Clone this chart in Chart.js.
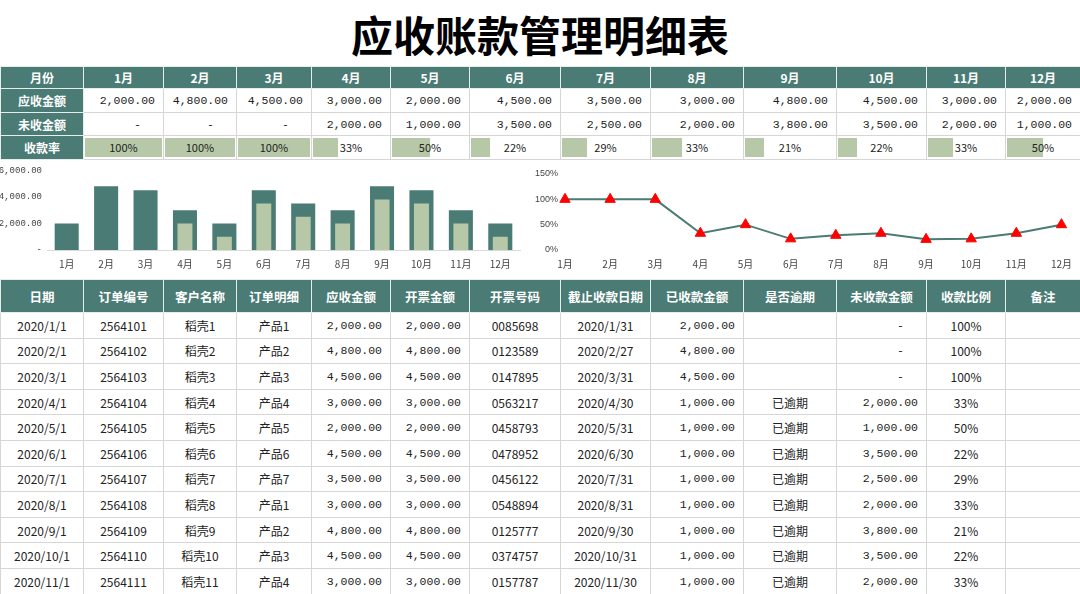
<!DOCTYPE html>
<html><head><meta charset="utf-8">
<script src="https://cdn.jsdelivr.net/npm/chart.js@4.4.1/dist/chart.umd.min.js"></script>
<style>
html,body{margin:0;padding:0;background:#fff;width:1080px;height:594px;overflow:hidden;position:relative;font-family:"Noto Sans CJK SC","Noto Sans",sans-serif;color:#222;}
#title{position:absolute;left:0;top:9px;width:1080px;text-align:center;font-size:42px;font-weight:700;line-height:50px;color:#000;}
table{position:absolute;left:0;border-collapse:collapse;table-layout:fixed;width:1080px;}
td{padding:0;overflow:hidden;white-space:nowrap;font-size:12px;box-sizing:border-box;}
.hd{background:#4a7b74;color:#fff;font-weight:700;text-align:center;border:1px solid #e6eeec;}
.c{text-align:center;border:1px solid #d6d6d6;}
.r{text-align:right;padding-right:8px;border:1px solid #d6d6d6;font-family:"Liberation Mono",monospace;font-size:11.5px;}
.r.dash{padding-right:22px;}
.rate{border:1px solid #d6d6d6;padding:2px 1px;}
.rate .in{position:relative;height:100%;}
.rate .bar{position:absolute;left:0;top:0;bottom:0;background:#b6c8a7;}
.rate .tx{position:relative;display:block;text-align:center;font-size:11px;line-height:19px;}
canvas{position:absolute;}
</style></head>
<body>
<div id="title">应收账款管理明细表</div>
<table id="top" style="top:66px"></table>
<canvas id="bar" width="530" height="118" style="left:0;top:160px;width:530px;height:118px"></canvas>
<canvas id="line" width="550" height="118" style="left:530px;top:160px;width:550px;height:118px"></canvas>
<table id="detail" style="top:279px"></table>
<script>
// ---- data ----
const months = ['1月','2月','3月','4月','5月','6月','7月','8月','9月','10月','11月','12月'];
const receivable = [2000,4800,4500,3000,2000,4500,3500,3000,4800,4500,3000,2000];
const unpaid = [0,0,0,2000,1000,3500,2500,2000,3800,3500,2000,1000];
const rates = [1,1,1,0.33,0.5,0.22,0.29,0.33,0.21,0.22,0.33,0.5];
const barTicks = [0,2000,4000,6000];
const rateTicks = [0,0.5,1,1.5];

const detailHeaders = ['日期','订单编号','客户名称','订单明细','应收金额','开票金额','开票号码','截止收款日期','已收款金额','是否逾期','未收款金额','收款比例','备注'];
const dates = ['2020/1/1','2020/2/1','2020/3/1','2020/4/1','2020/5/1','2020/6/1','2020/7/1','2020/8/1','2020/9/1','2020/10/1','2020/11/1'];
const orderNos = ['2564101','2564102','2564103','2564104','2564105','2564106','2564107','2564108','2564109','2564110','2564111'];
const customers = ['稻壳1','稻壳2','稻壳3','稻壳4','稻壳5','稻壳6','稻壳7','稻壳8','稻壳9','稻壳10','稻壳11'];
const products = ['产品1','产品2','产品3','产品4','产品5','产品6','产品7','产品1','产品2','产品3','产品4'];
const dueAmounts = [2000,4800,4500,3000,2000,4500,3500,3000,4800,4500,3000];
const invoiceAmounts = [2000,4800,4500,3000,2000,4500,3500,3000,4800,4500,3000];
const invoiceNos = ['0085698','0123589','0147895','0563217','0458793','0478952','0456122','0548894','0125777','0374757','0157787'];
const dueDates = ['2020/1/31','2020/2/27','2020/3/31','2020/4/30','2020/5/31','2020/6/30','2020/7/31','2020/8/31','2020/9/30','2020/10/31','2020/11/30'];
const receivedAmounts = [2000,4800,4500,1000,1000,1000,1000,1000,1000,1000,1000];
const overdue = ['','','','已逾期','已逾期','已逾期','已逾期','已逾期','已逾期','已逾期','已逾期'];
const unpaidAmounts = [0,0,0,2000,1000,3500,2500,2000,3800,3500,2000];
const ratios = ['100%','100%','100%','33%','50%','22%','29%','33%','21%','22%','33%'];

const colWidths = [83,80,73,75,79,79,91,90,93,93,90,79,75];

// ---- helpers ----
const fmt = v => v === 0 ? '-' : v.toLocaleString('en-US',{minimumFractionDigits:2,maximumFractionDigits:2});
const colgroup = () => '<colgroup>' + colWidths.map(w=>`<col style="width:${w}px">`).join('') + '</colgroup>';
const amt = v => `<td class="r${v===0?' dash':''}">${fmt(v)}</td>`;

// ---- top table ----
let h = colgroup();
h += '<tr style="height:22px"><td class="hd">月份</td>' + months.map(m=>`<td class="hd">${m}</td>`).join('') + '</tr>';
h += '<tr style="height:24px"><td class="hd">应收金额</td>' + receivable.map(amt).join('') + '</tr>';
h += '<tr style="height:23px"><td class="hd">未收金额</td>' + unpaid.map(amt).join('') + '</tr>';
h += '<tr style="height:24px"><td class="hd">收款率</td>' + rates.map(r=>`<td class="rate"><div class="in"><div class="bar" style="width:${r*100}%"></div><span class="tx">${Math.round(r*100)}%</span></div></td>`).join('') + '</tr>';
document.getElementById('top').innerHTML = h;

// ---- detail table ----
let d = colgroup();
d += '<tr style="height:33px">' + detailHeaders.map(t=>`<td class="hd" style="font-size:12.5px">${t}</td>`).join('') + '</tr>';
for (let i=0;i<dates.length;i++){
  d += '<tr style="height:25.6px">' +
    `<td class="c">${dates[i]}</td><td class="c">${orderNos[i]}</td><td class="c">${customers[i]}</td><td class="c">${products[i]}</td>` +
    amt(dueAmounts[i]) + amt(invoiceAmounts[i]) +
    `<td class="c">${invoiceNos[i]}</td><td class="c">${dueDates[i]}</td>` +
    amt(receivedAmounts[i]) +
    `<td class="c">${overdue[i]}</td>` +
    amt(unpaidAmounts[i]) +
    `<td class="c">${ratios[i]}</td><td class="c"></td></tr>`;
}
document.getElementById('detail').innerHTML = d;

// ---- charts ----
const tickFont = {family:'"Noto Sans CJK SC","Noto Sans",sans-serif', size:10};
new Chart(document.getElementById('bar'), {
  type:'bar',
  data:{labels:months, datasets:[
    {label:'未收金额', data:unpaid, backgroundColor:'#b6c8a7', barPercentage:0.38, categoryPercentage:1, grouped:false, order:0},
    {label:'应收金额', data:receivable, backgroundColor:'#4a7b74', barPercentage:0.61, categoryPercentage:1, grouped:false, order:1}
  ]},
  options:{
    responsive:false, animation:false,
    layout:{padding:{top:8,right:10,left:0,bottom:0}},
    plugins:{legend:{display:false},tooltip:{enabled:false}},
    scales:{
      x:{grid:{display:false,drawTicks:false}, border:{display:true,color:'#d9d9d9'},
         ticks:{font:tickFont,color:'#444',padding:8}, afterFit(s){s.height=28;}},
      y:{min:0,max:6000, afterBuildTicks(s){s.ticks = barTicks.map(v=>({value:v}));},
         ticks:{font:{family:'"Liberation Mono",monospace',size:9},color:'#444',padding:5,
                callback:v=>fmt(v)},
         grid:{display:false,drawTicks:false}, border:{display:false}, afterFit(s){s.width=47;}}
    }
  }
});
new Chart(document.getElementById('line'), {
  type:'line',
  data:{labels:months, datasets:[
    {label:'收款率', data:rates, borderColor:'#4a7b74', borderWidth:2, tension:0,
     pointStyle:'triangle', pointRadius:6, pointBackgroundColor:'#ff0000', pointBorderColor:'#ff0000', pointBorderWidth:1}
  ]},
  options:{
    responsive:false, animation:false,
    layout:{padding:{top:14,right:18,left:0,bottom:0}},
    plugins:{legend:{display:false},tooltip:{enabled:false}},
    scales:{
      x:{offset:false, grid:{display:false,drawTicks:false}, border:{display:false},
         ticks:{font:tickFont,color:'#444',padding:8}, afterFit(s){s.height=28;}},
      y:{min:0,max:1.5, afterBuildTicks(s){s.ticks = rateTicks.map(v=>({value:v}));},
         ticks:{font:{family:'"Liberation Sans",sans-serif',size:9},color:'#444',padding:7,
                callback:v=>Math.round(v*100)+'%'},
         grid:{display:false,drawTicks:false}, border:{display:false}, afterFit(s){s.width=35;}}
    }
  }
});
</script>
</body></html>
